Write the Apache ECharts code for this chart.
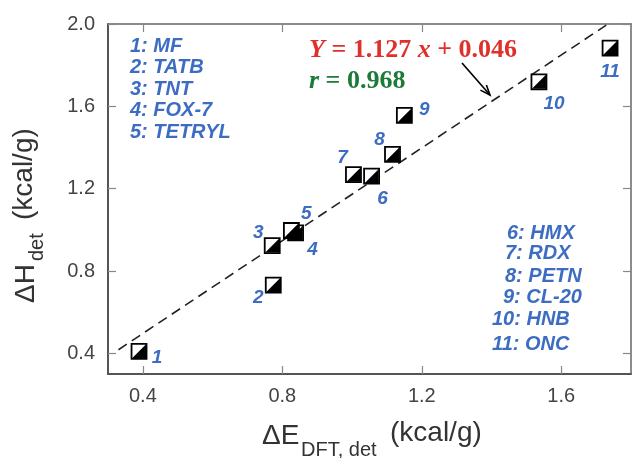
<!DOCTYPE html>
<html>
<head>
<meta charset="utf-8">
<script src="https://cdn.jsdelivr.net/npm/echarts@6/dist/echarts.min.js"></script>
<style>
html,body{margin:0;padding:0;background:#fff;}
#chart{width:632px;height:458px;}
</style>
</head>
<body>
<div id="chart"></div>
<script>
// ---- data ----
const compoundIds = ['1','2','3','4','5','6','7','8','9','10','11'];
const compoundNames = ['MF','TATB','TNT','FOX-7','TETRYL','HMX','RDX','PETN','CL-20','HNB','ONC'];
const dE = [0.389, 0.774, 0.771, 0.838, 0.826, 1.056, 1.004, 1.116, 1.150, 1.536, 1.740];
const dH = [0.410, 0.732, 0.924, 0.985, 0.997, 1.261, 1.268, 1.367, 1.556, 1.719, 1.883];
const fitSlope = 1.127;
const fitIntercept = 0.046;
const fitR = 0.968;
const fitXRange = [0.33, 1.734];
const xTicks = [0.4, 0.8, 1.2, 1.6];
const yTicks = [0.4, 0.8, 1.2, 1.6, 2.0];

// ---- styles / layout (not data) ----
const labelOffsets = [[18,6],[-15,13],[-14,-13],[17,17],[15,-17],[11,23],[-11,-17],[-13,-15],[20,-6],[15,22],[0,24]];
const BLUE = '#3d6dc2';
const SANS = '"Liberation Sans", Arial, Helvetica, sans-serif';
const SERIF = '"Liberation Serif", "Times New Roman", serif';

const chart = echarts.init(document.getElementById('chart'), null, {renderer:'canvas'});

const points = dE.map((x, i) => [x, dH[i]]);
const fitLine = fitXRange.map(x => [x, fitSlope * x + fitIntercept]);

const tickLabel = {color:'#444', fontSize:20, fontFamily:SANS};
const axisLine = (w,c) => ({show:true, onZero:false, lineStyle:{color:c, width:w}});
const tickIn = (vals) => ({show:true, inside:true, length:8, customValues: vals, lineStyle:{color:'#888', width:1.2}});

const legendLeft = compoundNames.slice(0,5).map((n,i) => ({
  type:'text', left:130, top: 47 + i*21.5 - 11,
  style:{text: compoundIds[i] + ': ' + n, fill:BLUE, font:'italic bold 20px ' + SANS}
}));
const rightY = [233, 253, 276, 297, 319, 344];
const rightX = [507, 505, 505, 503, 492, 492];
const legendRight = compoundNames.slice(5).map((n,i) => ({
  type:'text', x: rightX[i], y: rightY[i],
  style:{text: compoundIds[i+5] + ': ' + n, fill:BLUE, font:'italic bold 20px ' + SANS, verticalAlign:'middle'}
}));

const option = {
  backgroundColor:'#fff',
  animation:false,
  grid:{left:108, right:1, top:24, bottom:84},
  xAxis:[{
    type:'value', min:0.3, max:1.8, position:'bottom',
    axisLine: axisLine(2,'#555'),
    axisTick: tickIn(xTicks),
    axisLabel:{show:true, customValues:xTicks, margin:12, formatter:v=>v.toFixed(1), ...tickLabel},
    splitLine:{show:false}
  },{
    type:'value', min:0.3, max:1.8, position:'top',
    axisLine: axisLine(1.5,'#666'),
    axisTick: tickIn(xTicks),
    axisLabel:{show:false}, splitLine:{show:false}
  }],
  yAxis:[{
    type:'value', min:0.3, max:2.0, position:'left',
    axisLine: axisLine(2,'#555'),
    axisTick: tickIn(yTicks),
    axisLabel:{show:true, customValues:yTicks, margin:13, formatter:v=>v.toFixed(1), ...tickLabel},
    splitLine:{show:false}
  },{
    type:'value', min:0.3, max:2.0, position:'right',
    axisLine: axisLine(1.5,'#666'),
    axisTick: tickIn(yTicks),
    axisLabel:{show:false}, splitLine:{show:false}
  }],
  series:[
    {
      type:'line', data: fitLine, symbol:'none', z:1,
      lineStyle:{color:'#222', width:1.6, type:[10,6]}
    },
    {
      type:'scatter', data: points, symbol:'rect', symbolSize:15, z:3,
      itemStyle:{color:'#fff', borderColor:'#000', borderWidth:1.8, opacity:1}
    },
    {
      type:'scatter', symbol:'path://M10,0 L10,10 L0,10 Z', symbolSize:14, z:4,
      itemStyle:{color:'#000', opacity:1},
      label:{show:true, position:'inside', color:BLUE, fontSize:19, fontStyle:'italic', fontWeight:'bold', fontFamily:SANS,
        textBorderWidth:0, textBorderColor:'transparent', opacity:1,
        formatter: p => compoundIds[p.dataIndex]},
      data: points.map((p,i) => ({ value:p, label:{offset:labelOffsets[i]} }))
    }
  ],
  graphic:[
    ...legendLeft,
    ...legendRight,
    {type:'text', x:309, y:50, style:{
      text:'{i|Y} = 1.127 {i|x} + 0.046',
      fill:'#e0302c', font:'bold 26px ' + SERIF, verticalAlign:'middle',
      rich:{i:{fontStyle:'italic', fontWeight:'bold', fontSize:26, fontFamily:SERIF, fill:'#e0302c'}}
    }},
    {type:'text', x:309, y:81, style:{
      text:'{i|r} = ' + fitR.toFixed(3),
      fill:'#1f7a3a', font:'bold 26px ' + SERIF, verticalAlign:'middle',
      rich:{i:{fontStyle:'italic', fontWeight:'bold', fontSize:26, fontFamily:SERIF, fill:'#1f7a3a'}}
    }},
    {type:'polyline', shape:{points:[[462,63],[490,95]]}, style:{stroke:'#000', lineWidth:1.6, fill:null}},
    {type:'polyline', shape:{points:[[480.4,90.1],[490,95],[486.4,84.9]]}, style:{stroke:'#000', lineWidth:1.6, fill:null}},
    // x-axis title
    {type:'text', x:262, y:436, style:{text:'\u0394E', fill:'#333', font:'28px ' + SANS, verticalAlign:'middle'}},
    {type:'text', x:301, y:450, style:{text:'DFT, det', fill:'#333', font:'20px ' + SANS, verticalAlign:'middle'}},
    {type:'text', x:390, y:433, style:{text:'(kcal/g)', fill:'#333', font:'28px ' + SANS, verticalAlign:'middle'}},
    // y-axis title (rotated)
    {type:'group', x:26, y:303, rotation:Math.PI/2, children:[
      {type:'text', x:0, y:0, style:{text:'\u0394H', fill:'#333', font:'28px ' + SANS, verticalAlign:'middle'}},
      {type:'text', x:42, y:11, style:{text:'det', fill:'#333', font:'20px ' + SANS, verticalAlign:'middle'}},
      {type:'text', x:83, y:-2, style:{text:'(kcal/g)', fill:'#333', font:'28px ' + SANS, verticalAlign:'middle'}}
    ]}
  ]
};
chart.setOption(option);
</script>
</body>
</html>
